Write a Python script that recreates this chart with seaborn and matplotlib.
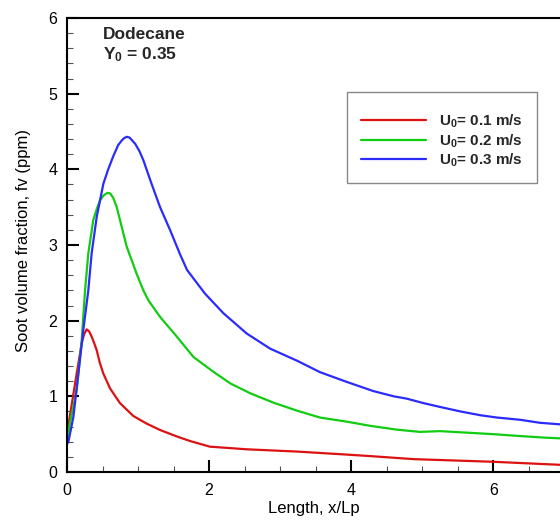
import matplotlib
matplotlib.use("Agg")
import matplotlib.pyplot as plt
import seaborn as sns
import pandas as pd
from matplotlib.ticker import MultipleLocator

# ---- data ----
x_u01 = [0, 0.02, 0.136, 0.207, 0.24, 0.277, 0.31, 0.347, 0.38, 0.418, 0.46, 0.512,
         0.606, 0.746, 0.934, 1.12, 1.31, 1.545, 1.73, 2.01, 2.53, 3.0, 3.24, 3.94,
         4.27, 4.88, 6.0, 6.94]
y_u01 = [0.5, 0.62, 1.30, 1.70, 1.82, 1.885, 1.86, 1.79, 1.71, 1.61, 1.45, 1.30,
         1.105, 0.91, 0.74, 0.64, 0.555, 0.47, 0.41, 0.335, 0.30, 0.28, 0.27, 0.23,
         0.21, 0.17, 0.135, 0.095]

x_u02 = [0, 0.04, 0.136, 0.207, 0.254, 0.30, 0.37, 0.42, 0.465, 0.52, 0.573, 0.61,
         0.652, 0.70, 0.746, 0.84, 0.98, 1.075, 1.145, 1.31, 1.545, 1.78, 2.06, 2.30,
         2.58, 2.91, 3.24, 3.56, 3.94, 4.27, 4.64, 4.97, 5.25, 5.63, 6.0, 6.38, 6.71, 6.94]
y_u02 = [0.40, 0.64, 1.08, 1.74, 2.40, 2.89, 3.33, 3.48, 3.59, 3.66, 3.69, 3.68,
         3.62, 3.50, 3.33, 2.98, 2.62, 2.40, 2.27, 2.05, 1.79, 1.52, 1.325, 1.17,
         1.04, 0.915, 0.81, 0.72, 0.665, 0.61, 0.56, 0.53, 0.54, 0.52, 0.50, 0.475,
         0.455, 0.445]

x_u03 = [0, 0.02, 0.09, 0.16, 0.23, 0.30, 0.347, 0.418, 0.512, 0.58, 0.65, 0.72,
         0.77, 0.80, 0.84, 0.88, 0.958, 1.02, 1.075, 1.19, 1.31, 1.45, 1.59, 1.69,
         1.94, 2.20, 2.53, 2.86, 3.24, 3.56, 3.94, 4.31, 4.60, 4.78, 5.02, 5.25, 5.54,
         5.82, 6.05, 6.38, 6.66, 6.94]
y_u03 = [0.37, 0.40, 0.73, 1.30, 1.88, 2.40, 2.89, 3.37, 3.81, 4.00, 4.17, 4.32,
         4.38, 4.41, 4.43, 4.42, 4.34, 4.24, 4.12, 3.81, 3.50, 3.20, 2.88, 2.67,
         2.36, 2.10, 1.83, 1.63, 1.47, 1.32, 1.19, 1.07, 1.00, 0.97, 0.91, 0.86, 0.80,
         0.75, 0.72, 0.69, 0.65, 0.63]

series_labels = ["U$_0$= 0.1 m/s", "U$_0$= 0.2 m/s", "U$_0$= 0.3 m/s"]
series_colors = ["#dd1111", "#11cc11", "#2b2bff"]

x_ticks = [0, 2, 4, 6]
y_ticks = [0, 1, 2, 3, 4, 5, 6]

frames = []
for lab, xs, ys in zip(series_labels, [x_u01, x_u02, x_u03], [y_u01, y_u02, y_u03]):
    frames.append(pd.DataFrame({"x": xs, "y": ys, "series": lab}))
df = pd.concat(frames, ignore_index=True)

# ---- style ----
sns.set_style("white")
plt.rcParams["font.family"] = ["Liberation Sans", "DejaVu Sans"]
plt.rcParams["mathtext.fontset"] = "custom"
plt.rcParams["mathtext.rm"] = "Liberation Sans:bold"
plt.rcParams["mathtext.it"] = "Liberation Sans:bold"
plt.rcParams["mathtext.bf"] = "Liberation Sans:bold"

fig = plt.figure(figsize=(5.6, 5.2), dpi=100)
ax = fig.add_axes([67 / 560, 1 - 472 / 520, 1 - 67 / 560, (472 - 18) / 520])

sns.lineplot(data=df, x="x", y="y", hue="series", palette=series_colors,
             hue_order=series_labels, estimator=None, sort=False,
             linewidth=1.6, ax=ax, legend=False)
for ln in ax.get_lines():
    ln.set_solid_joinstyle("round")

ax.set_xlim(0, 6.94)
ax.set_ylim(0, 6)
ax.set_xticks(x_ticks)
ax.set_yticks(y_ticks)
ax.xaxis.set_minor_locator(MultipleLocator(0.5))
ax.yaxis.set_minor_locator(MultipleLocator(0.2))
ax.tick_params(which="both", bottom=True, left=True, top=False, right=False)
ax.tick_params(which="major", direction="in", length=8.6, width=1.5,
               color="black", labelsize=11.5, labelcolor="black")
ax.tick_params(axis="x", which="major", pad=8)
ax.tick_params(axis="y", which="major", pad=7)
ax.tick_params(which="minor", direction="in", length=4.3, width=0.8, color="#555555")

for s in ["left", "bottom", "top"]:
    ax.spines[s].set_linewidth(1.5)
    ax.spines[s].set_color("black")
ax.spines["right"].set_visible(False)

ax.set_xlabel("Length, x/Lp", fontsize=12, color="black")
ax.set_ylabel("Soot volume fraction, fv (ppm)", fontsize=12, color="black")
ax.xaxis.set_label_coords(0.5, -0.064)
ax.yaxis.set_label_coords(-0.073, 0.511)

# annotations
ax.text((103 - 67) / 493, (472 - 39) / 454, "Dodecane", transform=ax.transAxes,
        fontsize=12.5, fontweight="bold", va="baseline", ha="left")
ax.text((103 - 67) / 493, (472 - 59) / 454, "Y$_0$ = 0.35", transform=ax.transAxes,
        fontsize=12.5, fontweight="bold", va="baseline", ha="left")

# legend
handles = ax.get_lines()[:3]
leg = ax.legend(handles, series_labels, loc="upper left",
                bbox_to_anchor=((347 - 67) / 493, 1 - (92 - 18) / 454),
                borderaxespad=0, frameon=True, fancybox=False, framealpha=1,
                edgecolor="#888888", handlelength=4.3,
                handletextpad=0.85, labelspacing=0.13, borderpad=0.9,
                title=" ", title_fontsize=4,
                prop={"weight": "bold", "size": 11})
leg.get_frame().set_linewidth(1.0)

fig.savefig("out.png", dpi=100)
